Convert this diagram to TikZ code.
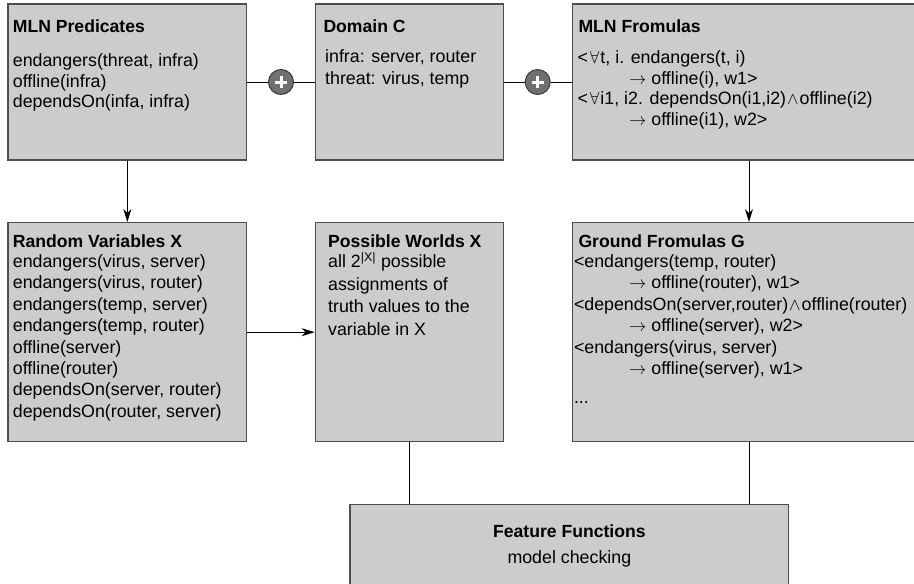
\documentclass[tikz,border=0pt]{standalone}
\usepackage{fontspec}
\setmainfont{Liberation Sans}
\usetikzlibrary{arrows.meta}
\definecolor{boxfill}{HTML}{CCCCCC}
\definecolor{boxline}{HTML}{4D4D4D}
\definecolor{plusfill}{HTML}{707070}
\definecolor{plusline}{HTML}{3A3A3A}
\begin{document}
\begin{tikzpicture}[x=1pt,y=-1pt,
  box/.style={draw=boxline, fill=boxfill, line width=1.3pt, rectangle, inner sep=0pt},
  txt/.style={anchor=base west, inner sep=0pt, font=\fontsize{17.8}{21}\selectfont},
  ttl/.style={txt, font=\fontsize{17.6}{21}\selectfont\bfseries},
  conn/.style={line width=1pt, draw=black},
  arr/.style={conn, -{Stealth[length=13pt,width=8pt,inset=4pt]}},
  plusnode/.style={circle, draw=plusline, fill=plusfill, line width=1pt, minimum size=25pt, inner sep=0pt},
  pluscross/.style={draw=white, line width=3pt}]
\clip (0,0) rectangle (914,584);
% boxes
\node[box, minimum width=238.7pt, minimum height=156pt] (b1) at (127.35,82) {};
\node[box, minimum width=188pt,   minimum height=156pt] (b2) at (409.3,82) {};
\node[box, minimum width=352.6pt, minimum height=156pt] (b3) at (749,82) {};
\node[box, minimum width=238.7pt, minimum height=219pt] (b4) at (127.35,332.2) {};
\node[box, minimum width=188pt,   minimum height=219pt] (b5) at (409.3,332.2) {};
\node[box, minimum width=352.6pt, minimum height=219pt] (b6) at (749,332.2) {};
\node[box, minimum width=438.7pt, minimum height=95.3pt] (b7) at (569.35,552.35) {};
% plus circles
\node[plusnode] (p1) at (281,82) {};
\node[plusnode] (p2) at (537.7,82) {};
\draw[pluscross] ([xshift=-6.2pt]p1.center) -- ([xshift=6.2pt]p1.center)
                 ([yshift=-6.2pt]p1.center) -- ([yshift=6.2pt]p1.center);
\draw[pluscross] ([xshift=-6.2pt]p2.center) -- ([xshift=6.2pt]p2.center)
                 ([yshift=-6.2pt]p2.center) -- ([yshift=6.2pt]p2.center);
% connectors
\draw[conn] (b1) -- (p1);
\draw[conn] (p1) -- (b2);
\draw[conn] (b2) -- (p2);
\draw[conn] (p2) -- (b3);
\draw[arr] (b1) -- (b4);
\draw[arr] (b3) -- (b6);
\draw[arr] (b4) -- (b5);
\draw[conn] (b5.south) -- (b5.south |- b7.north);
\draw[conn] (b6.south) -- (b6.south |- b7.north);
% texts: MLN Predicates
\node[ttl] (t1) at (12.7,32.3) {MLN Predicates};
\foreach \s [count=\i] in {{endangers(threat, infra)},{offline(infra)},{dependsOn(infa, infra)}}
  \node[txt] (la\i) at (12.7,46.4+20.3*\i) {\s};
% Domain C
\node[ttl] (t2) at (323.3,32.3) {Domain C};
\node[txt] (lb1) at (325,62.3) {infra: server, router};
\node[txt] (lb2) at (325,84) {threat: virus, temp};
% MLN Fromulas
\node[ttl] (t3) at (578.3,32.3) {MLN Fromulas};
\node[txt] (lc1) at (577.3,63.5) {<\kern2pt$\forall$\kern1pt t, i. endangers(t, i)};
\node[txt] (lc2) at (629,84) {$\rightarrow$ offline(i), w1>};
\node[txt] (lc3) at (577.3,104.5) {<\kern2pt$\forall$\kern1pt i1, i2. dependsOn(i1,i2)\kern1pt$\wedge$\kern1pt offline(i2)};
\node[txt] (lc4) at (629,125) {$\rightarrow$ offline(i1), w2>};
% Random Variables X
\node[ttl] (t4) at (12.7,247) {Random Variables X};
\foreach \s [count=\i] in {{endangers(virus, server)},{endangers(virus, router)},{endangers(temp, server)},{endangers(temp, router)},{offline(server)},{offline(router)},{dependsOn(server, router)},{dependsOn(router, server)}}
  \node[txt] (ld\i) at (12.7,246.1+21.4*\i) {\s};
% Possible Worlds X
\node[ttl] (t5) at (328,247) {Possible Worlds X};
\node[txt] (le1) at (328,267.5) {all 2\textsuperscript{|X|} possible};
\node[txt] (le2) at (328,290) {assignments of};
\node[txt] (le3) at (328,312.5) {truth values to the};
\node[txt] (le4) at (328,335.5) {variable in X};
% Ground Fromulas G
\node[ttl] (t6) at (578.3,247) {Ground Fromulas G};
\node[txt] (lf1) at (573.8,267.5) {<endangers(temp, router)};
\node[txt] (lf2) at (629,288.9) {$\rightarrow$ offline(router), w1>};
\node[txt] (lf3) at (573.8,310.3) {<dependsOn(server,router)\kern1pt$\wedge$\kern1pt offline(router)};
\node[txt] (lf4) at (629,331.7) {$\rightarrow$ offline(server), w2>};
\node[txt] (lf5) at (573.8,353.1) {<endangers(virus, server)};
\node[txt] (lf6) at (629,374.5) {$\rightarrow$ offline(server), w1>};
\node[txt] (lf7) at (573.8,403) {...};
% Feature Functions
\node[ttl, anchor=base] (t7) at (569.35,537) {Feature Functions};
\node[txt, anchor=base] (lg1) at (569.35,563) {model checking};
\end{tikzpicture}
\end{document}
